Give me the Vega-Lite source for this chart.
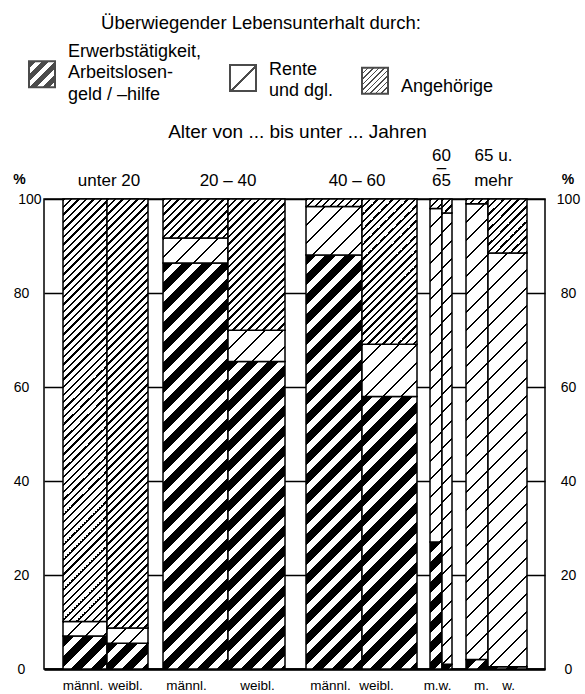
{
"$schema": "https://vega.github.io/schema/vega-lite/v6.json",
"width": 501,
"height": 470,
"autosize": {"type": "none"},
"padding": {"left": 44, "top": 199, "right": 40, "bottom": 25},
"background": "white",
"config": {"font": "Liberation Sans", "view": {"stroke": "black", "strokeWidth": 1.5}, "style": {"guide-label": {"lineHeight": 7.17}}},
"params": [
{"name": "sE", "value": [
{"offset":0,"color":"#000"},{"offset":0.022,"color":"#000"},{"offset":0.022,"color":"#fff"},{"offset":0.04,"color":"#fff"},
{"offset":0.04,"color":"#000"},{"offset":0.062,"color":"#000"},{"offset":0.062,"color":"#fff"},{"offset":0.08,"color":"#fff"},
{"offset":0.08,"color":"#000"},{"offset":0.102,"color":"#000"},{"offset":0.102,"color":"#fff"},{"offset":0.12,"color":"#fff"},
{"offset":0.12,"color":"#000"},{"offset":0.142,"color":"#000"},{"offset":0.142,"color":"#fff"},{"offset":0.16,"color":"#fff"},
{"offset":0.16,"color":"#000"},{"offset":0.182,"color":"#000"},{"offset":0.182,"color":"#fff"},{"offset":0.2,"color":"#fff"},
{"offset":0.2,"color":"#000"},{"offset":0.222,"color":"#000"},{"offset":0.222,"color":"#fff"},{"offset":0.24,"color":"#fff"},
{"offset":0.24,"color":"#000"},{"offset":0.262,"color":"#000"},{"offset":0.262,"color":"#fff"},{"offset":0.28,"color":"#fff"},
{"offset":0.28,"color":"#000"},{"offset":0.302,"color":"#000"},{"offset":0.302,"color":"#fff"},{"offset":0.32,"color":"#fff"},
{"offset":0.32,"color":"#000"},{"offset":0.342,"color":"#000"},{"offset":0.342,"color":"#fff"},{"offset":0.36,"color":"#fff"},
{"offset":0.36,"color":"#000"},{"offset":0.382,"color":"#000"},{"offset":0.382,"color":"#fff"},{"offset":0.4,"color":"#fff"},
{"offset":0.4,"color":"#000"},{"offset":0.422,"color":"#000"},{"offset":0.422,"color":"#fff"},{"offset":0.44,"color":"#fff"},
{"offset":0.44,"color":"#000"},{"offset":0.462,"color":"#000"},{"offset":0.462,"color":"#fff"},{"offset":0.48,"color":"#fff"},
{"offset":0.48,"color":"#000"},{"offset":0.502,"color":"#000"},{"offset":0.502,"color":"#fff"},{"offset":0.52,"color":"#fff"},
{"offset":0.52,"color":"#000"},{"offset":0.542,"color":"#000"},{"offset":0.542,"color":"#fff"},{"offset":0.56,"color":"#fff"},
{"offset":0.56,"color":"#000"},{"offset":0.582,"color":"#000"},{"offset":0.582,"color":"#fff"},{"offset":0.6,"color":"#fff"},
{"offset":0.6,"color":"#000"},{"offset":0.622,"color":"#000"},{"offset":0.622,"color":"#fff"},{"offset":0.64,"color":"#fff"},
{"offset":0.64,"color":"#000"},{"offset":0.662,"color":"#000"},{"offset":0.662,"color":"#fff"},{"offset":0.68,"color":"#fff"},
{"offset":0.68,"color":"#000"},{"offset":0.702,"color":"#000"},{"offset":0.702,"color":"#fff"},{"offset":0.72,"color":"#fff"},
{"offset":0.72,"color":"#000"},{"offset":0.742,"color":"#000"},{"offset":0.742,"color":"#fff"},{"offset":0.76,"color":"#fff"},
{"offset":0.76,"color":"#000"},{"offset":0.782,"color":"#000"},{"offset":0.782,"color":"#fff"},{"offset":0.8,"color":"#fff"},
{"offset":0.8,"color":"#000"},{"offset":0.822,"color":"#000"},{"offset":0.822,"color":"#fff"},{"offset":0.84,"color":"#fff"},
{"offset":0.84,"color":"#000"},{"offset":0.862,"color":"#000"},{"offset":0.862,"color":"#fff"},{"offset":0.88,"color":"#fff"},
{"offset":0.88,"color":"#000"},{"offset":0.902,"color":"#000"},{"offset":0.902,"color":"#fff"},{"offset":0.92,"color":"#fff"},
{"offset":0.92,"color":"#000"},{"offset":0.942,"color":"#000"},{"offset":0.942,"color":"#fff"},{"offset":0.96,"color":"#fff"},
{"offset":0.96,"color":"#000"},{"offset":0.982,"color":"#000"},{"offset":0.982,"color":"#fff"},{"offset":1,"color":"#fff"}
]},
{"name": "sR", "value": [
{"offset":0,"color":"#000"},{"offset":0.0035,"color":"#000"},{"offset":0.0035,"color":"#fff"},{"offset":0.03125,"color":"#fff"},
{"offset":0.03125,"color":"#000"},{"offset":0.03475,"color":"#000"},{"offset":0.03475,"color":"#fff"},{"offset":0.0625,"color":"#fff"},
{"offset":0.0625,"color":"#000"},{"offset":0.066,"color":"#000"},{"offset":0.066,"color":"#fff"},{"offset":0.09375,"color":"#fff"},
{"offset":0.09375,"color":"#000"},{"offset":0.09725,"color":"#000"},{"offset":0.09725,"color":"#fff"},{"offset":0.125,"color":"#fff"},
{"offset":0.125,"color":"#000"},{"offset":0.1285,"color":"#000"},{"offset":0.1285,"color":"#fff"},{"offset":0.15625,"color":"#fff"},
{"offset":0.15625,"color":"#000"},{"offset":0.15975,"color":"#000"},{"offset":0.15975,"color":"#fff"},{"offset":0.1875,"color":"#fff"},
{"offset":0.1875,"color":"#000"},{"offset":0.191,"color":"#000"},{"offset":0.191,"color":"#fff"},{"offset":0.21875,"color":"#fff"},
{"offset":0.21875,"color":"#000"},{"offset":0.22225,"color":"#000"},{"offset":0.22225,"color":"#fff"},{"offset":0.25,"color":"#fff"},
{"offset":0.25,"color":"#000"},{"offset":0.2535,"color":"#000"},{"offset":0.2535,"color":"#fff"},{"offset":0.28125,"color":"#fff"},
{"offset":0.28125,"color":"#000"},{"offset":0.28475,"color":"#000"},{"offset":0.28475,"color":"#fff"},{"offset":0.3125,"color":"#fff"},
{"offset":0.3125,"color":"#000"},{"offset":0.316,"color":"#000"},{"offset":0.316,"color":"#fff"},{"offset":0.34375,"color":"#fff"},
{"offset":0.34375,"color":"#000"},{"offset":0.34725,"color":"#000"},{"offset":0.34725,"color":"#fff"},{"offset":0.375,"color":"#fff"},
{"offset":0.375,"color":"#000"},{"offset":0.3785,"color":"#000"},{"offset":0.3785,"color":"#fff"},{"offset":0.40625,"color":"#fff"},
{"offset":0.40625,"color":"#000"},{"offset":0.40975,"color":"#000"},{"offset":0.40975,"color":"#fff"},{"offset":0.4375,"color":"#fff"},
{"offset":0.4375,"color":"#000"},{"offset":0.441,"color":"#000"},{"offset":0.441,"color":"#fff"},{"offset":0.46875,"color":"#fff"},
{"offset":0.46875,"color":"#000"},{"offset":0.47225,"color":"#000"},{"offset":0.47225,"color":"#fff"},{"offset":0.5,"color":"#fff"},
{"offset":0.5,"color":"#000"},{"offset":0.5035,"color":"#000"},{"offset":0.5035,"color":"#fff"},{"offset":0.53125,"color":"#fff"},
{"offset":0.53125,"color":"#000"},{"offset":0.53475,"color":"#000"},{"offset":0.53475,"color":"#fff"},{"offset":0.5625,"color":"#fff"},
{"offset":0.5625,"color":"#000"},{"offset":0.566,"color":"#000"},{"offset":0.566,"color":"#fff"},{"offset":0.59375,"color":"#fff"},
{"offset":0.59375,"color":"#000"},{"offset":0.59725,"color":"#000"},{"offset":0.59725,"color":"#fff"},{"offset":0.625,"color":"#fff"},
{"offset":0.625,"color":"#000"},{"offset":0.6285,"color":"#000"},{"offset":0.6285,"color":"#fff"},{"offset":0.65625,"color":"#fff"},
{"offset":0.65625,"color":"#000"},{"offset":0.65975,"color":"#000"},{"offset":0.65975,"color":"#fff"},{"offset":0.6875,"color":"#fff"},
{"offset":0.6875,"color":"#000"},{"offset":0.691,"color":"#000"},{"offset":0.691,"color":"#fff"},{"offset":0.71875,"color":"#fff"},
{"offset":0.71875,"color":"#000"},{"offset":0.72225,"color":"#000"},{"offset":0.72225,"color":"#fff"},{"offset":0.75,"color":"#fff"},
{"offset":0.75,"color":"#000"},{"offset":0.7535,"color":"#000"},{"offset":0.7535,"color":"#fff"},{"offset":0.78125,"color":"#fff"},
{"offset":0.78125,"color":"#000"},{"offset":0.78475,"color":"#000"},{"offset":0.78475,"color":"#fff"},{"offset":0.8125,"color":"#fff"},
{"offset":0.8125,"color":"#000"},{"offset":0.816,"color":"#000"},{"offset":0.816,"color":"#fff"},{"offset":0.84375,"color":"#fff"},
{"offset":0.84375,"color":"#000"},{"offset":0.84725,"color":"#000"},{"offset":0.84725,"color":"#fff"},{"offset":0.875,"color":"#fff"},
{"offset":0.875,"color":"#000"},{"offset":0.8785,"color":"#000"},{"offset":0.8785,"color":"#fff"},{"offset":0.90625,"color":"#fff"},
{"offset":0.90625,"color":"#000"},{"offset":0.90975,"color":"#000"},{"offset":0.90975,"color":"#fff"},{"offset":0.9375,"color":"#fff"},
{"offset":0.9375,"color":"#000"},{"offset":0.941,"color":"#000"},{"offset":0.941,"color":"#fff"},{"offset":0.96875,"color":"#fff"},
{"offset":0.96875,"color":"#000"},{"offset":0.97225,"color":"#000"},{"offset":0.97225,"color":"#fff"},{"offset":1,"color":"#fff"}
]},
{"name": "sA", "value": [
{"offset":0,"color":"#000"},{"offset":0.0047,"color":"#000"},{"offset":0.0047,"color":"#fff"},{"offset":0.015625,"color":"#fff"},
{"offset":0.015625,"color":"#000"},{"offset":0.020325,"color":"#000"},{"offset":0.020325,"color":"#fff"},{"offset":0.03125,"color":"#fff"},
{"offset":0.03125,"color":"#000"},{"offset":0.03595,"color":"#000"},{"offset":0.03595,"color":"#fff"},{"offset":0.046875,"color":"#fff"},
{"offset":0.046875,"color":"#000"},{"offset":0.051575,"color":"#000"},{"offset":0.051575,"color":"#fff"},{"offset":0.0625,"color":"#fff"},
{"offset":0.0625,"color":"#000"},{"offset":0.0672,"color":"#000"},{"offset":0.0672,"color":"#fff"},{"offset":0.078125,"color":"#fff"},
{"offset":0.078125,"color":"#000"},{"offset":0.082825,"color":"#000"},{"offset":0.082825,"color":"#fff"},{"offset":0.09375,"color":"#fff"},
{"offset":0.09375,"color":"#000"},{"offset":0.09845,"color":"#000"},{"offset":0.09845,"color":"#fff"},{"offset":0.109375,"color":"#fff"},
{"offset":0.109375,"color":"#000"},{"offset":0.114075,"color":"#000"},{"offset":0.114075,"color":"#fff"},{"offset":0.125,"color":"#fff"},
{"offset":0.125,"color":"#000"},{"offset":0.1297,"color":"#000"},{"offset":0.1297,"color":"#fff"},{"offset":0.140625,"color":"#fff"},
{"offset":0.140625,"color":"#000"},{"offset":0.145325,"color":"#000"},{"offset":0.145325,"color":"#fff"},{"offset":0.15625,"color":"#fff"},
{"offset":0.15625,"color":"#000"},{"offset":0.16095,"color":"#000"},{"offset":0.16095,"color":"#fff"},{"offset":0.171875,"color":"#fff"},
{"offset":0.171875,"color":"#000"},{"offset":0.176575,"color":"#000"},{"offset":0.176575,"color":"#fff"},{"offset":0.1875,"color":"#fff"},
{"offset":0.1875,"color":"#000"},{"offset":0.1922,"color":"#000"},{"offset":0.1922,"color":"#fff"},{"offset":0.203125,"color":"#fff"},
{"offset":0.203125,"color":"#000"},{"offset":0.207825,"color":"#000"},{"offset":0.207825,"color":"#fff"},{"offset":0.21875,"color":"#fff"},
{"offset":0.21875,"color":"#000"},{"offset":0.22345,"color":"#000"},{"offset":0.22345,"color":"#fff"},{"offset":0.234375,"color":"#fff"},
{"offset":0.234375,"color":"#000"},{"offset":0.239075,"color":"#000"},{"offset":0.239075,"color":"#fff"},{"offset":0.25,"color":"#fff"},
{"offset":0.25,"color":"#000"},{"offset":0.2547,"color":"#000"},{"offset":0.2547,"color":"#fff"},{"offset":0.265625,"color":"#fff"},
{"offset":0.265625,"color":"#000"},{"offset":0.270325,"color":"#000"},{"offset":0.270325,"color":"#fff"},{"offset":0.28125,"color":"#fff"},
{"offset":0.28125,"color":"#000"},{"offset":0.28595,"color":"#000"},{"offset":0.28595,"color":"#fff"},{"offset":0.296875,"color":"#fff"},
{"offset":0.296875,"color":"#000"},{"offset":0.301575,"color":"#000"},{"offset":0.301575,"color":"#fff"},{"offset":0.3125,"color":"#fff"},
{"offset":0.3125,"color":"#000"},{"offset":0.3172,"color":"#000"},{"offset":0.3172,"color":"#fff"},{"offset":0.328125,"color":"#fff"},
{"offset":0.328125,"color":"#000"},{"offset":0.332825,"color":"#000"},{"offset":0.332825,"color":"#fff"},{"offset":0.34375,"color":"#fff"},
{"offset":0.34375,"color":"#000"},{"offset":0.34845,"color":"#000"},{"offset":0.34845,"color":"#fff"},{"offset":0.359375,"color":"#fff"},
{"offset":0.359375,"color":"#000"},{"offset":0.364075,"color":"#000"},{"offset":0.364075,"color":"#fff"},{"offset":0.375,"color":"#fff"},
{"offset":0.375,"color":"#000"},{"offset":0.3797,"color":"#000"},{"offset":0.3797,"color":"#fff"},{"offset":0.390625,"color":"#fff"},
{"offset":0.390625,"color":"#000"},{"offset":0.395325,"color":"#000"},{"offset":0.395325,"color":"#fff"},{"offset":0.40625,"color":"#fff"},
{"offset":0.40625,"color":"#000"},{"offset":0.41095,"color":"#000"},{"offset":0.41095,"color":"#fff"},{"offset":0.421875,"color":"#fff"},
{"offset":0.421875,"color":"#000"},{"offset":0.426575,"color":"#000"},{"offset":0.426575,"color":"#fff"},{"offset":0.4375,"color":"#fff"},
{"offset":0.4375,"color":"#000"},{"offset":0.4422,"color":"#000"},{"offset":0.4422,"color":"#fff"},{"offset":0.453125,"color":"#fff"},
{"offset":0.453125,"color":"#000"},{"offset":0.457825,"color":"#000"},{"offset":0.457825,"color":"#fff"},{"offset":0.46875,"color":"#fff"},
{"offset":0.46875,"color":"#000"},{"offset":0.47345,"color":"#000"},{"offset":0.47345,"color":"#fff"},{"offset":0.484375,"color":"#fff"},
{"offset":0.484375,"color":"#000"},{"offset":0.489075,"color":"#000"},{"offset":0.489075,"color":"#fff"},{"offset":0.5,"color":"#fff"},
{"offset":0.5,"color":"#000"},{"offset":0.5047,"color":"#000"},{"offset":0.5047,"color":"#fff"},{"offset":0.515625,"color":"#fff"},
{"offset":0.515625,"color":"#000"},{"offset":0.520325,"color":"#000"},{"offset":0.520325,"color":"#fff"},{"offset":0.53125,"color":"#fff"},
{"offset":0.53125,"color":"#000"},{"offset":0.53595,"color":"#000"},{"offset":0.53595,"color":"#fff"},{"offset":0.546875,"color":"#fff"},
{"offset":0.546875,"color":"#000"},{"offset":0.551575,"color":"#000"},{"offset":0.551575,"color":"#fff"},{"offset":0.5625,"color":"#fff"},
{"offset":0.5625,"color":"#000"},{"offset":0.5672,"color":"#000"},{"offset":0.5672,"color":"#fff"},{"offset":0.578125,"color":"#fff"},
{"offset":0.578125,"color":"#000"},{"offset":0.582825,"color":"#000"},{"offset":0.582825,"color":"#fff"},{"offset":0.59375,"color":"#fff"},
{"offset":0.59375,"color":"#000"},{"offset":0.59845,"color":"#000"},{"offset":0.59845,"color":"#fff"},{"offset":0.609375,"color":"#fff"},
{"offset":0.609375,"color":"#000"},{"offset":0.614075,"color":"#000"},{"offset":0.614075,"color":"#fff"},{"offset":0.625,"color":"#fff"},
{"offset":0.625,"color":"#000"},{"offset":0.6297,"color":"#000"},{"offset":0.6297,"color":"#fff"},{"offset":0.640625,"color":"#fff"},
{"offset":0.640625,"color":"#000"},{"offset":0.645325,"color":"#000"},{"offset":0.645325,"color":"#fff"},{"offset":0.65625,"color":"#fff"},
{"offset":0.65625,"color":"#000"},{"offset":0.66095,"color":"#000"},{"offset":0.66095,"color":"#fff"},{"offset":0.671875,"color":"#fff"},
{"offset":0.671875,"color":"#000"},{"offset":0.676575,"color":"#000"},{"offset":0.676575,"color":"#fff"},{"offset":0.6875,"color":"#fff"},
{"offset":0.6875,"color":"#000"},{"offset":0.6922,"color":"#000"},{"offset":0.6922,"color":"#fff"},{"offset":0.703125,"color":"#fff"},
{"offset":0.703125,"color":"#000"},{"offset":0.707825,"color":"#000"},{"offset":0.707825,"color":"#fff"},{"offset":0.71875,"color":"#fff"},
{"offset":0.71875,"color":"#000"},{"offset":0.72345,"color":"#000"},{"offset":0.72345,"color":"#fff"},{"offset":0.734375,"color":"#fff"},
{"offset":0.734375,"color":"#000"},{"offset":0.739075,"color":"#000"},{"offset":0.739075,"color":"#fff"},{"offset":0.75,"color":"#fff"},
{"offset":0.75,"color":"#000"},{"offset":0.7547,"color":"#000"},{"offset":0.7547,"color":"#fff"},{"offset":0.765625,"color":"#fff"},
{"offset":0.765625,"color":"#000"},{"offset":0.770325,"color":"#000"},{"offset":0.770325,"color":"#fff"},{"offset":0.78125,"color":"#fff"},
{"offset":0.78125,"color":"#000"},{"offset":0.78595,"color":"#000"},{"offset":0.78595,"color":"#fff"},{"offset":0.796875,"color":"#fff"},
{"offset":0.796875,"color":"#000"},{"offset":0.801575,"color":"#000"},{"offset":0.801575,"color":"#fff"},{"offset":0.8125,"color":"#fff"},
{"offset":0.8125,"color":"#000"},{"offset":0.8172,"color":"#000"},{"offset":0.8172,"color":"#fff"},{"offset":0.828125,"color":"#fff"},
{"offset":0.828125,"color":"#000"},{"offset":0.832825,"color":"#000"},{"offset":0.832825,"color":"#fff"},{"offset":0.84375,"color":"#fff"},
{"offset":0.84375,"color":"#000"},{"offset":0.84845,"color":"#000"},{"offset":0.84845,"color":"#fff"},{"offset":0.859375,"color":"#fff"},
{"offset":0.859375,"color":"#000"},{"offset":0.864075,"color":"#000"},{"offset":0.864075,"color":"#fff"},{"offset":0.875,"color":"#fff"},
{"offset":0.875,"color":"#000"},{"offset":0.8797,"color":"#000"},{"offset":0.8797,"color":"#fff"},{"offset":0.890625,"color":"#fff"},
{"offset":0.890625,"color":"#000"},{"offset":0.895325,"color":"#000"},{"offset":0.895325,"color":"#fff"},{"offset":0.90625,"color":"#fff"},
{"offset":0.90625,"color":"#000"},{"offset":0.91095,"color":"#000"},{"offset":0.91095,"color":"#fff"},{"offset":0.921875,"color":"#fff"},
{"offset":0.921875,"color":"#000"},{"offset":0.926575,"color":"#000"},{"offset":0.926575,"color":"#fff"},{"offset":0.9375,"color":"#fff"},
{"offset":0.9375,"color":"#000"},{"offset":0.9422,"color":"#000"},{"offset":0.9422,"color":"#fff"},{"offset":0.953125,"color":"#fff"},
{"offset":0.953125,"color":"#000"},{"offset":0.957825,"color":"#000"},{"offset":0.957825,"color":"#fff"},{"offset":0.96875,"color":"#fff"},
{"offset":0.96875,"color":"#000"},{"offset":0.97345,"color":"#000"},{"offset":0.97345,"color":"#fff"},{"offset":0.984375,"color":"#fff"},
{"offset":0.984375,"color":"#000"},{"offset":0.989075,"color":"#000"},{"offset":0.989075,"color":"#fff"},{"offset":1,"color":"#fff"}
]}
],
"data": {"values": [
{"gruppe":"unter 20","geschlecht":"männl.","balken":1,"von":19,"bis":63,"kat":"Erwerbstätigkeit, Arbeitslosengeld/-hilfe","anteil":7},
{"gruppe":"unter 20","geschlecht":"männl.","balken":1,"von":19,"bis":63,"kat":"Rente und dgl.","anteil":3.1},
{"gruppe":"unter 20","geschlecht":"männl.","balken":1,"von":19,"bis":63,"kat":"Angehörige","anteil":89.9},
{"gruppe":"unter 20","geschlecht":"weibl.","balken":2,"von":63,"bis":104,"kat":"Erwerbstätigkeit, Arbeitslosengeld/-hilfe","anteil":5.5},
{"gruppe":"unter 20","geschlecht":"weibl.","balken":2,"von":63,"bis":104,"kat":"Rente und dgl.","anteil":3.2},
{"gruppe":"unter 20","geschlecht":"weibl.","balken":2,"von":63,"bis":104,"kat":"Angehörige","anteil":91.3},
{"gruppe":"20 – 40","geschlecht":"männl.","balken":3,"von":119,"bis":184,"kat":"Erwerbstätigkeit, Arbeitslosengeld/-hilfe","anteil":86.4},
{"gruppe":"20 – 40","geschlecht":"männl.","balken":3,"von":119,"bis":184,"kat":"Rente und dgl.","anteil":5.3},
{"gruppe":"20 – 40","geschlecht":"männl.","balken":3,"von":119,"bis":184,"kat":"Angehörige","anteil":8.3},
{"gruppe":"20 – 40","geschlecht":"weibl.","balken":4,"von":184,"bis":241,"kat":"Erwerbstätigkeit, Arbeitslosengeld/-hilfe","anteil":65.4},
{"gruppe":"20 – 40","geschlecht":"weibl.","balken":4,"von":184,"bis":241,"kat":"Rente und dgl.","anteil":6.7},
{"gruppe":"20 – 40","geschlecht":"weibl.","balken":4,"von":184,"bis":241,"kat":"Angehörige","anteil":27.9},
{"gruppe":"40 – 60","geschlecht":"männl.","balken":5,"von":262,"bis":318,"kat":"Erwerbstätigkeit, Arbeitslosengeld/-hilfe","anteil":88.1},
{"gruppe":"40 – 60","geschlecht":"männl.","balken":5,"von":262,"bis":318,"kat":"Rente und dgl.","anteil":10.3},
{"gruppe":"40 – 60","geschlecht":"männl.","balken":5,"von":262,"bis":318,"kat":"Angehörige","anteil":1.6},
{"gruppe":"40 – 60","geschlecht":"weibl.","balken":6,"von":318,"bis":373,"kat":"Erwerbstätigkeit, Arbeitslosengeld/-hilfe","anteil":58},
{"gruppe":"40 – 60","geschlecht":"weibl.","balken":6,"von":318,"bis":373,"kat":"Rente und dgl.","anteil":11.1},
{"gruppe":"40 – 60","geschlecht":"weibl.","balken":6,"von":318,"bis":373,"kat":"Angehörige","anteil":30.9},
{"gruppe":"60 – 65","geschlecht":"m.","balken":7,"von":386,"bis":398,"kat":"Erwerbstätigkeit, Arbeitslosengeld/-hilfe","anteil":27},
{"gruppe":"60 – 65","geschlecht":"m.","balken":7,"von":386,"bis":398,"kat":"Rente und dgl.","anteil":71},
{"gruppe":"60 – 65","geschlecht":"m.","balken":7,"von":386,"bis":398,"kat":"Angehörige","anteil":2},
{"gruppe":"60 – 65","geschlecht":"w.","balken":8,"von":398,"bis":408,"kat":"Erwerbstätigkeit, Arbeitslosengeld/-hilfe","anteil":1},
{"gruppe":"60 – 65","geschlecht":"w.","balken":8,"von":398,"bis":408,"kat":"Rente und dgl.","anteil":96},
{"gruppe":"60 – 65","geschlecht":"w.","balken":8,"von":398,"bis":408,"kat":"Angehörige","anteil":3},
{"gruppe":"65 u. mehr","geschlecht":"m.","balken":9,"von":422,"bis":444,"kat":"Erwerbstätigkeit, Arbeitslosengeld/-hilfe","anteil":2},
{"gruppe":"65 u. mehr","geschlecht":"m.","balken":9,"von":422,"bis":444,"kat":"Rente und dgl.","anteil":97},
{"gruppe":"65 u. mehr","geschlecht":"m.","balken":9,"von":422,"bis":444,"kat":"Angehörige","anteil":1},
{"gruppe":"65 u. mehr","geschlecht":"w.","balken":10,"von":444,"bis":483,"kat":"Erwerbstätigkeit, Arbeitslosengeld/-hilfe","anteil":0.5},
{"gruppe":"65 u. mehr","geschlecht":"w.","balken":10,"von":444,"bis":483,"kat":"Rente und dgl.","anteil":88},
{"gruppe":"65 u. mehr","geschlecht":"w.","balken":10,"von":444,"bis":483,"kat":"Angehörige","anteil":11.5}
]},
"transform": [{"stack": "anteil", "groupby": ["balken"], "as": ["y0", "y1"]}],
"layer": [
{
"mark": {"type": "rect", "stroke": "black", "strokeWidth": 1.5,
 "fill": {"expr": "{gradient:'linear',x1:0,y1:0,x2:(datum.kat=='Angehörige'?480:datum.kat=='Rente und dgl.'?576:500)*((datum.bis-datum.von)*width/501)/(pow((datum.bis-datum.von)*width/501,2)+pow((datum.y1-datum.y0)*height/100,2)),y2:(datum.kat=='Angehörige'?480:datum.kat=='Rente und dgl.'?576:500)*((datum.y1-datum.y0)*height/100)/(pow((datum.bis-datum.von)*width/501,2)+pow((datum.y1-datum.y0)*height/100,2)),stops:datum.kat=='Angehörige'?sA:datum.kat=='Rente und dgl.'?sR:sE}"}},
"encoding": {
 "x": {"field": "von", "type": "quantitative", "scale": {"domain": [0, 501], "nice": false, "zero": false},
  "axis": {"orient": "bottom", "values": [38.5, 81, 142, 213, 286, 332, 393, 437, 464],
   "labelExpr": "['männl.','weibl.','männl.','weibl.','männl.','weibl.','m.w.','m.','w.'][indexof([38.5,81,142,213,286,332,393,437,464],datum.value)]",
   "title": null, "ticks": false, "grid": false, "domain": true, "domainColor": "black", "domainWidth": 2.5,
   "labelFontSize": 13.5, "labelPadding": 9, "labelOverlap": false, "labelBound": false, "labelFlush": false, "labelColor": "black"}},
 "x2": {"field": "bis"},
 "y": {"field": "y0", "type": "quantitative", "scale": {"domain": [0, 100], "nice": false},
  "axis": {"orient": "left", "values": [0, 20, 40, 60, 80, 100], "grid": true, "gridColor": "black", "gridWidth": 1.5, "gridOpacity": 1,
   "domain": false, "ticks": false, "labelFontSize": 14, "labelColor": "black", "labelBaseline": "middle",
   "labelAlign": {"condition": {"test": "datum.value == 100", "value": "right"}, "value": "center"},
   "labelPadding": {"condition": {"test": "datum.value == 100", "value": 3}, "value": 23},
   "labelOverlap": false, "labelFlush": false,
   "title": "%", "titleAngle": 0, "titleX": -25, "titleY": -20, "titleAlign": "center", "titleBaseline": "middle",
   "titleFontSize": 14, "titleFontWeight": "bold", "titleColor": "black"}},
 "y2": {"field": "y1"}
}
},
{
"mark": {"type": "square", "size": 0, "strokeWidth": 0},
"encoding": {
 "x": {"field": "von", "type": "quantitative",
  "axis": {"orient": "top", "values": [64.5, 183.5, 312.5, 397, 449],
   "labelExpr": "datum.value==64.5?['\u200b','\u200b','unter 20']:datum.value==183.5?['\u200b','\u200b','20 – 40']:datum.value==312.5?['\u200b','\u200b','40 – 60']:datum.value==397?['60','–','65']:['65 u.','\u200b','mehr']",
   "labelLineHeight": 12.5, "labelFontSize": 17, "labelBaseline": "alphabetic", "labelPadding": 39,
   "ticks": false, "grid": false, "domain": false, "labelOverlap": false, "labelBound": false, "labelFlush": false, "labelColor": "black",
   "title": "Alter von ... bis unter ... Jahren", "titleFontSize": 19, "titleFontWeight": "normal", "titleColor": "black",
   "titleX": 253, "titleY": -62, "titleAlign": "center", "titleBaseline": "alphabetic"}},
 "y": {"field": "y1", "type": "quantitative",
  "axis": {"orient": "right", "values": [0, 20, 40, 60, 80, 100], "grid": false, "domain": false, "ticks": false,
   "labelFontSize": 14, "labelColor": "black", "labelAlign": "center", "labelPadding": 23, "labelBaseline": "middle", "labelOverlap": false, "labelFlush": false,
   "title": "%", "titleAngle": 0, "titleX": 22.5, "titleY": -20, "titleAlign": "center", "titleBaseline": "middle",
   "titleFontSize": 14, "titleFontWeight": "bold", "titleColor": "black"}},
 "fill": {"field": "kat", "type": "nominal",
  "scale": {"domain": ["Erwerbstätigkeit, Arbeitslosengeld/-hilfe", "Rente und dgl.", "Angehörige"],
   "range": [
    {"expr": "{gradient:'linear',x1:0,y1:0,x2:6.25,y2:6.25,stops:sE}"},
    {"expr": "{gradient:'linear',x1:0,y1:0,x2:16,y2:16,stops:sR}"},
    {"expr": "{gradient:'linear',x1:0,y1:0,x2:6.77,y2:6.77,stops:sA}"}
   ]},
  "legend": {"orient": "none", "legendX": -16, "legendY": -185, "direction": "horizontal", "padding": 0,
   "title": "Überwiegender Lebensunterhalt durch:", "titleFontSize": 18.5, "titleFontWeight": "normal", "titleColor": "black",
   "titleAnchor": "middle", "titlePadding": 5, "titleLimit": 800,
   "labelFontSize": 18, "labelColor": "black", "labelLimit": 400, "labelOffset": 12, "columnPadding": 24,
   "symbolType": "M-1,0.72L1,0.72L1,2.72L-1,2.72Z", "symbolSize": 676, "symbolStrokeColor": "black", "symbolStrokeWidth": 2,
   "labelExpr": "datum.value=='Rente und dgl.'?['\u200b','\u200b','Rente','\u200b','\u200b','und dgl.']:datum.value=='Angehörige'?['\u200b','\u200b','\u200b','\u200b','Angehörige']:['Erwerbstätigkeit,','\u200b','\u200b','Arbeitslosen-','\u200b','\u200b','geld / –hilfe']"}}
}
}
],
"resolve": {"axis": {"x": "independent", "y": "independent"}}
}
